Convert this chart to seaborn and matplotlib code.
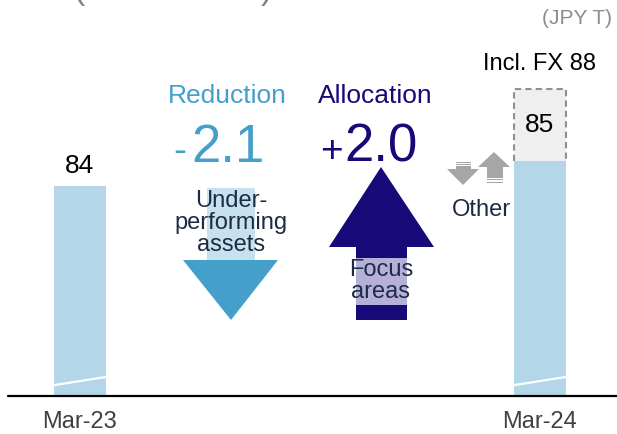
import matplotlib
matplotlib.use("Agg")
import matplotlib.pyplot as plt
import matplotlib.transforms as mtransforms
from matplotlib.patches import Polygon, Rectangle
import pandas as pd
import seaborn as sns

# data (JPY trillion)
periods = ["Mar-23", "Mar-24"]
balance = [84, 85]
fx_total = 88
flow_labels = ["Reduction", "Allocation"]
flow_values = [-2.1, 2.0]
flow_notes = ["Under-\nperforming\nassets", "Focus\nareas"]
other_label = "Other"
unit_label = "(JPY T)"

# broken axis: bars start from this value, not from zero
axis_floor = 75.27
units_shown = 16.43

W, H = 617, 434
LIGHT_BLUE = "#b3d7e9"
RED_BLUE = "#449fcb"
RED_SHAFT = "#c6e2ef"
NAVY = "#170a78"
NAVY_SOFT = "#b5b0d8"
TEXT_DARK = "#1e2b45"
GRAY_ARROW = "#a6a6a6"

sns.set_theme(style="white")
plt.rcParams["font.family"] = ["Liberation Sans", "DejaVu Sans"]

fig = plt.figure(figsize=(W / 100, H / 100), dpi=100)
ax = fig.add_axes([0, 38 / H, 1, 396 / H])

df = pd.DataFrame({"period": periods, "height": [b - axis_floor for b in balance]})
sns.barplot(data=df, x="period", y="height", order=periods, color=LIGHT_BLUE,
            saturation=1, width=0.113, ax=ax, zorder=2, edgecolor="none", linewidth=0)
ax.set_xlim(-80 / 460, 537 / 460)
ax.set_ylim(0, units_shown)

# FX-inclusive segment on top of Mar-24
bw = 0.113
i24 = periods.index("Mar-24")
ax.bar(i24, fx_total - balance[i24], bottom=balance[i24] - axis_floor, width=bw,
       color="#efefef", edgecolor="none", zorder=1)
x0, x1 = i24 - bw / 2, i24 + bw / 2
ylo, yhi = balance[i24] - axis_floor, fx_total - axis_floor
ax.plot([x0, x0, x1, x1], [ylo, yhi, yhi, ylo], color="#8f8f8f", lw=1.5,
        ls=(0, (3, 2)), zorder=3)

# axis break marks
for i in range(len(periods)):
    ax.plot([i - bw / 2, i + bw / 2], [0.45, 0.79], color="white", lw=1.6, zorder=3)

# value labels
ax.annotate(f"{balance[0]}", (0, balance[0] - axis_floor), xytext=(0, 8),
            textcoords="offset pixels", ha="center", va="bottom", fontsize=19, color="black")
ax.text(i24, (balance[i24] + fx_total) / 2 - axis_floor, f"{balance[i24]}",
        ha="center", va="center", fontsize=19, color="black", zorder=4)
ax.annotate(f"Incl. FX {fx_total}", (i24, fx_total - axis_floor), xytext=(0, 19),
            textcoords="offset pixels", ha="center", va="baseline", fontsize=17, color="black")

# axis styling
for s in ax.spines.values():
    s.set_visible(False)
ax.axhline(0, xmin=8 / W, xmax=1, color="black", lw=1.6, clip_on=False, zorder=5)
ax.set_xlabel("")
ax.set_ylabel("")
ax.set_yticks([])
ax.tick_params(axis="x", length=0, pad=11, labelsize=17, labelcolor="#404040")

# decorations placed in reference pixel coordinates
pxt = mtransforms.Affine2D().scale(1 / W, -1 / H).translate(0, 1) + fig.transFigure


def poly(points, color, z=2):
    fig.patches.append(Polygon(points, closed=True, facecolor=color, edgecolor="none",
                               transform=pxt, zorder=z))


def rect(xa, ya, xb, yb, color, z=2):
    fig.patches.append(Rectangle((xa, ya), xb - xa, yb - ya, facecolor=color,
                                 edgecolor="none", transform=pxt, zorder=z))


# reduction arrow (down)
rect(207, 188, 255, 261, RED_SHAFT)
poly([(183, 260), (278, 260), (231, 320)], RED_BLUE)
# allocation arrow (up)
rect(356, 246, 407, 320, NAVY)
poly([(329, 247), (434, 247), (381, 167)], NAVY)
rect(356, 258, 407, 305, NAVY_SOFT, z=3)
# other (small gray arrows)
rect(456, 161.5, 471, 162.7, GRAY_ARROW)
rect(456, 163.8, 471, 165, GRAY_ARROW)
rect(456, 166, 471, 170, GRAY_ARROW)
poly([(447, 169), (479, 169), (463, 185)], GRAY_ARROW)
poly([(478, 167), (510, 167), (494, 152)], GRAY_ARROW)
rect(487, 166.5, 503, 177.5, GRAY_ARROW)
rect(487, 179, 503, 180.2, GRAY_ARROW)
rect(487, 182, 503, 183.2, GRAY_ARROW)

colors = [RED_BLUE, NAVY]
centers = [227, 375]
num_x = [228, 381]
sign_x = [180, 331]
for lab, val, cx, nx, sx, c in zip(flow_labels, flow_values, centers, num_x, sign_x, colors):
    fig.text(cx, 103, lab, transform=pxt, ha="center", va="baseline", fontsize=19, color=c)
    sign = "-" if val < 0 else "+"
    fig.text(sx, 162, sign, transform=pxt, ha="center", va="baseline", fontsize=28, color=c)
    fig.text(nx, 162, f"{abs(val):.1f}", transform=pxt, ha="center", va="baseline",
             fontsize=38, color=c)

fig.text(231, 223, flow_notes[0], transform=pxt, ha="center", va="center", fontsize=17,
         color=TEXT_DARK, linespacing=1.0, zorder=5)
fig.text(381, 281, flow_notes[1], transform=pxt, ha="center", va="center", fontsize=17,
         color=TEXT_DARK, linespacing=1.0, zorder=5)
fig.text(481, 210, other_label, transform=pxt, ha="center", va="center", fontsize=17,
         color=TEXT_DARK)
fig.text(612, 18, unit_label, transform=pxt, ha="right", va="center", fontsize=15,
         color="#8c8c8c")
# title brackets cut off at the very top, as in the reference
fig.text(80, -1, "(", transform=pxt, ha="center", va="baseline", fontsize=24, color="#808080")
fig.text(266, -1, ")", transform=pxt, ha="center", va="baseline", fontsize=24, color="#808080")

fig.savefig("out.png", dpi=100)
